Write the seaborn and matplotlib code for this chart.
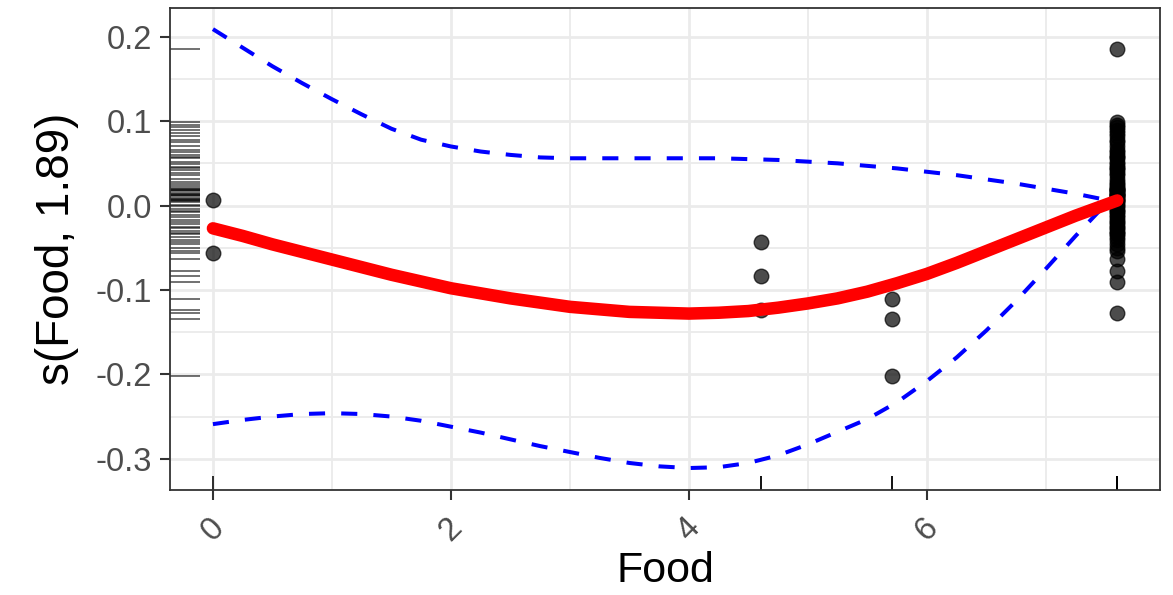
import numpy as np
import pandas as pd
import matplotlib
matplotlib.use("Agg")
import matplotlib.pyplot as plt
import seaborn as sns
from matplotlib.ticker import MultipleLocator, FixedLocator

# smooth term estimate and confidence band
grid_x = [0.0, 0.25, 0.5, 0.75, 1.0, 1.25, 1.5, 1.75, 2.0, 2.25, 2.5, 2.75, 3.0,
          3.25, 3.5, 3.75, 4.0, 4.25, 4.5, 4.75, 5.0, 5.25, 5.5, 5.75, 6.0,
          6.25, 6.5, 6.75, 7.0, 7.25, 7.6]
fit_y = [-0.027, -0.036, -0.046, -0.055, -0.064, -0.073, -0.082, -0.090, -0.098,
         -0.104, -0.110, -0.115, -0.120, -0.123, -0.126, -0.127, -0.128, -0.127,
         -0.125, -0.121, -0.116, -0.110, -0.102, -0.092, -0.081, -0.068, -0.054,
         -0.040, -0.026, -0.012, 0.006]
upper_y = [0.209, 0.187, 0.165, 0.145, 0.126, 0.108, 0.091, 0.078, 0.070, 0.064,
           0.060, 0.057, 0.056, 0.056, 0.056, 0.056, 0.056, 0.056, 0.055, 0.054,
           0.052, 0.050, 0.047, 0.044, 0.040, 0.036, 0.031, 0.026, 0.020, 0.014,
           0.004]
lower_y = [-0.259, -0.254, -0.250, -0.247, -0.246, -0.247, -0.250, -0.255, -0.262,
           -0.269, -0.277, -0.285, -0.292, -0.299, -0.305, -0.309, -0.311, -0.310,
           -0.305, -0.296, -0.283, -0.268, -0.253, -0.233, -0.208, -0.180, -0.148,
           -0.113, -0.075, -0.036, 0.016]

# partial residuals
food_levels = [0.0, 4.605, 5.704, 7.601]
resid_0 = [0.006, -0.056]
resid_46 = [-0.043, -0.084, -0.124]
resid_57 = [-0.111, -0.135, -0.202]
resid_76 = [0.185, 0.099, 0.096, 0.093, 0.090, 0.086, 0.082, 0.078, 0.075, 0.070,
            0.066, 0.063, 0.060, 0.057, 0.056, 0.052,
            0.049, 0.046, 0.044, 0.042, 0.038, 0.036, 0.032, 0.028, 0.025,
            0.023, 0.021, 0.020, 0.019, 0.018, 0.017, 0.015, 0.014, 0.013, 0.012,
            0.011, 0.009, 0.008, 0.007,
            0.005, 0.004, 0.001, -0.001, -0.004, -0.006, -0.008, -0.011,
            -0.014, -0.017, -0.020, -0.022,
            -0.025, -0.027, -0.030, -0.032, -0.034, -0.037, -0.041, -0.045,
            -0.050, -0.054, -0.063, -0.077, -0.091, -0.127]

y_ticks = [0.2, 0.1, 0.0, -0.1, -0.2, -0.3]
x_ticks = [0, 2, 4, 6]

groups = [resid_0, resid_46, resid_57, resid_76]
points = pd.DataFrame({
    "Food": np.concatenate([[lvl] * len(g) for lvl, g in zip(food_levels, groups)]),
    "resid": np.concatenate(groups),
})
curves = pd.DataFrame({"Food": grid_x, "fit": fit_y, "upper": upper_y, "lower": lower_y})

sns.set_theme(style="white")
plt.rcParams["font.family"] = ["Liberation Sans", "DejaVu Sans"]
plt.rcParams["axes.unicode_minus"] = False

fig = plt.figure(figsize=(11.73, 5.95), dpi=100)
ax = fig.add_axes([0.145, 0.1765, 0.844, 0.81])

# grid like ggplot theme_bw
ax.xaxis.set_major_locator(FixedLocator(x_ticks))
ax.xaxis.set_minor_locator(MultipleLocator(1))
ax.yaxis.set_major_locator(FixedLocator(y_ticks))
ax.yaxis.set_minor_locator(MultipleLocator(0.05))
ax.grid(which="major", color="#ebebeb", linewidth=2.0)
ax.grid(which="minor", color="#ebebeb", linewidth=1.3)
ax.set_axisbelow(True)

sns.rugplot(data=points, y="resid", height=0.03, color="black", alpha=0.6,
            linewidth=1.3, ax=ax)
sns.rugplot(data=points, x="Food", height=0.03, color="black", alpha=0.6,
            linewidth=1.3, ax=ax)

sns.lineplot(data=curves, x="Food", y="upper", color="blue", linewidth=2.9,
             linestyle=(0, (4, 4)), ax=ax)
sns.lineplot(data=curves, x="Food", y="lower", color="blue", linewidth=2.9,
             linestyle=(0, (4, 4)), ax=ax)

sns.scatterplot(data=points, x="Food", y="resid", color="black", alpha=0.7,
                s=110, edgecolor="black", linewidth=1.0, ax=ax, zorder=3)

sns.lineplot(data=curves, x="Food", y="fit", color="red", linewidth=9,
             ax=ax, zorder=4)

ax.set_xlim(-0.36, 7.96)
ax.set_ylim(-0.337, 0.234)

ax.set_yticklabels([f"{v:.1f}" for v in y_ticks])
ax.set_xticklabels([str(v) for v in x_ticks], rotation=45, ha="center")

ax.tick_params(axis="both", which="major", direction="out", length=7, width=1.5,
               color="#333333", labelcolor="#4d4d4d", labelsize=23.5,
               bottom=True, left=True)
ax.tick_params(axis="both", which="minor", length=0)
ax.tick_params(axis="y", pad=6)
ax.tick_params(axis="x", pad=9)

for sp in ax.spines.values():
    sp.set_color("#333333")
    sp.set_linewidth(1.3)

ax.set_xlabel("Food", fontsize=31, color="black", labelpad=3)
ax.set_ylabel("s(Food, 1.89)", fontsize=33, color="black", labelpad=12)

fig.savefig("out.png", dpi=100)
